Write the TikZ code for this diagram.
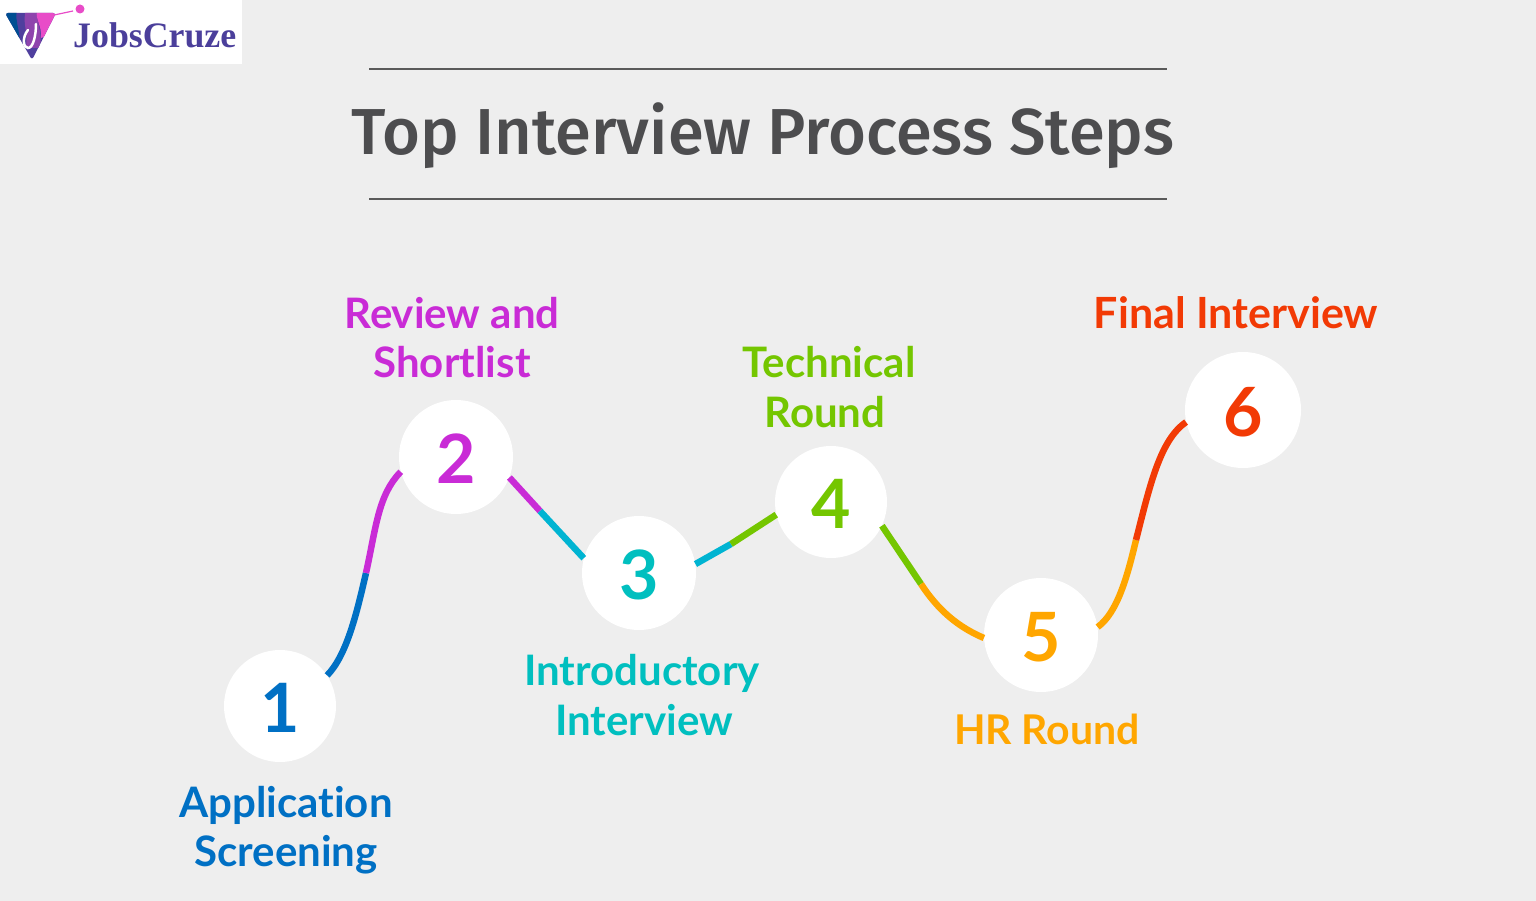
\documentclass[tikz,border=0pt]{standalone}
\usepackage{fontspec}
\setmainfont{Lato}[Ligatures=NoCommon]
\newfontfamily\titlefont{Fira Sans Medium}
\newfontfamily\logofont{Liberation Serif}
\definecolor{bgc}{HTML}{EEEEEE}
\definecolor{titlec}{HTML}{4D4D4F}
\definecolor{rulec}{HTML}{5A5A5A}
\definecolor{cA}{HTML}{0070C4}
\definecolor{cB}{HTML}{C92BD6}
\definecolor{cC}{HTML}{00BFBF}
\definecolor{cCl}{HTML}{00B4D2}
\definecolor{cD}{HTML}{74C600}
\definecolor{cE}{HTML}{FFA600}
\definecolor{cF}{HTML}{F23A05}
\definecolor{logoc}{HTML}{4B3F9B}
\definecolor{bandA}{HTML}{004E92}
\definecolor{bandB}{HTML}{4F3F9E}
\definecolor{bandC}{HTML}{8E44AD}
\definecolor{bandD}{HTML}{E84CC8}
\tikzset{
  disc/.style={circle,fill=white,minimum size=#1*2pt,inner sep=0pt,text height=52pt,text depth=0pt,font=\fontsize{68}{68}\selectfont\bfseries},
  lab/.style={align=center,inner sep=0pt,font=\fontsize{42}{49.5}\selectfont\bfseries},
  seg/.style={line width=6.5pt,line cap=butt},
  titlerule/.style={draw=rulec,line width=2.5pt},
}
\begin{document}
\begin{tikzpicture}[x=1pt,y=-1pt]
\useasboundingbox (0,0) rectangle (1536,901);
\fill[bgc] (0,0) rectangle (1536,901);
% logo
\fill[white] (0,0) rectangle (242,64);
\begin{scope}
  \clip[rounded corners=3pt] (5,13) -- (56,13) -- (32,60) -- cycle;
  \fill[bandB] (0,10) rectangle (60,62);
  \fill[bandA] (0,10) -- (17,10) .. controls (14,22) and (22,30) .. (20,62) -- (0,62) -- cycle;
  \fill[bandC] (26,10) -- (37,10) .. controls (35,20) and (43,30) .. (40,48) -- (26,48) .. controls (28,30) and (22,22) .. (26,10);
  \fill[bandD] (37,10) -- (60,10) -- (60,30) -- (41,38) .. controls (42,25) and (35,20) .. (37,10);
\end{scope}
\draw[white,line width=2.5pt,line cap=round] (36,24) .. controls (36,36) and (33,48) .. (28,48) .. controls (23,48) and (22,37) .. (28,30);
\draw[bandD,line width=1.2pt] (40,18) -- (73,11);
\fill[bandD] (80,9) circle (4.5pt);
\node[inner sep=0pt,text=logoc,anchor=base west,font=\fontsize{35.8}{37}\selectfont\logofont\bfseries] (logo) at (73,48) {JobsCruze};
% title
\coordinate (r1a) at (369,69); \coordinate (r1b) at (1167,69);
\coordinate (r2a) at (369,199); \coordinate (r2b) at (1167,199);
\draw[titlerule] (r1a) -- (r1b);
\draw[titlerule] (r2a) -- (r2b);
\node[inner sep=0pt,anchor=base,text=titlec,font=\fontsize{65}{65}\selectfont\titlefont] (title) at (763,155) {Top Interview Process Steps};
% discs
\node[disc=56,text=cA] (n1) at (280,706) {1};
\node[disc=57,text=cB] (n2) at (456,457) {2};
\node[disc=57,text=cC] (n3) at (639,573) {3};
\node[disc=56,text=cD] (n4) at (831,502) {4};
\node[disc=57,text=cE] (n5) at (1041,635) {5};
\node[disc=58,text=cF] (n6) at (1243,410) {6};
% colour changes
\coordinate (m12) at (366,573);
\coordinate (m23) at (540,511);
\coordinate (m34) at (731,544);
\coordinate (m45) at (921,584);
\coordinate (m56) at (1136,540);
% connectors
\draw[seg,cA] (n1.33) .. controls (347,655) and (357,612) .. (m12);
\draw[seg,cB] (m12) .. controls (376,528) and (378,495) .. (n2.195);
\draw[seg,cB] (n2.-21) -- (m23);
\draw[seg,cCl] (m23) -- (n3.165);
\draw[seg,cCl] (n3.9) -- (m34);
\draw[seg,cD] (m34) -- (n4.193);
\draw[seg,cD] (n4.-25) -- (m45);
\draw[seg,cE] (m45) .. controls (938,610) and (958,627) .. (n5.183);
\draw[seg,cE] (n5.8) .. controls (1117,613) and (1127,578) .. (m56);
\draw[seg,cF] (m56) .. controls (1150,485) and (1160,440) .. (n6.192);
% labels
\node[lab,text=cA] (t1) at (286,830) {Application\\Screening};
\node[lab,text=cB] (t2) at (452,337.5) {Review and\\Shortlist};
\node[lab,text=cC] (t3) at (642,695) {Introductory\\\hspace*{4pt}Interview};
\node[lab,text=cD] (t4) at (829,387) {Technical\\Round\hspace*{8pt}};
\node[lab,text=cE,font=\fontsize{41}{49}\selectfont\bfseries] (t5) at (1047,729) {HR Round};
\node[lab,text=cF,font=\fontsize{43}{49}\selectfont\bfseries] (t6) at (1236,313) {Final Interview};
\end{tikzpicture}
\end{document}
